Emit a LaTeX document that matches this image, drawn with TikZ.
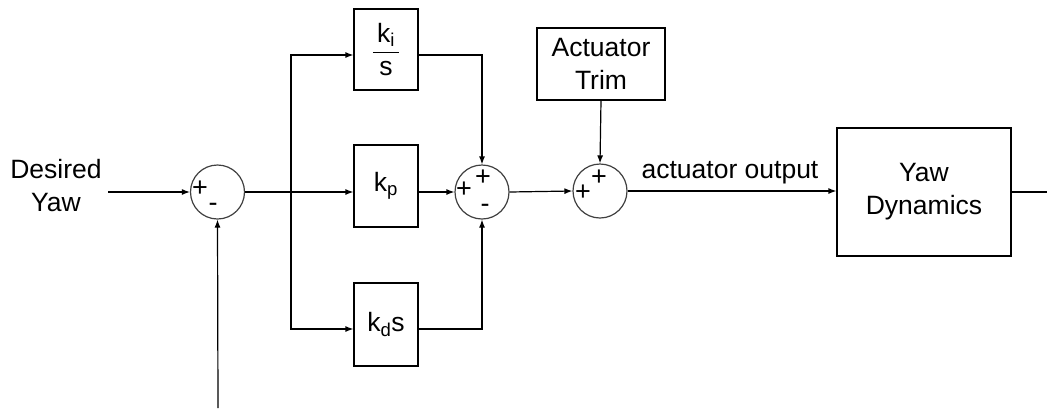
\documentclass[tikz,border=0pt]{standalone}
\usepackage{fontspec}
\setmainfont{Liberation Sans}
\usepackage{amsmath}
\usetikzlibrary{arrows.meta}
\tikzset{yawloop/.style={x=1pt,y=-1pt,line width=1.2pt,
           font=\fontsize{26.5}{33}\selectfont,>={Latex[length=8pt,width=6pt]}}}
\tikzset{blk/.style={draw,rectangle,inner sep=0pt,align=center},
         sumj/.style={draw,black!75,circle,minimum size=54pt,inner sep=0pt},
         sgn/.style={font=\fontsize{27}{27}\selectfont,inner sep=0pt}}

\begin{document}
\begin{tikzpicture}[yawloop]
    \useasboundingbox (0,0) rectangle (1047,408);
    % summing junctions
    \node[sumj] (s1) at (217.5,192) {};
    \node[sumj] (s2) at (482,192) {};
    \node[sumj] (s3) at (600,191) {};
    \node[sgn] (s1a) at (200,189) {+};
    \node[sgn] (s1b) at (213,207) {-};
    \node[sgn] (s2a) at (464,190) {+};
    \node[sgn] (s2b) at (483,178) {+};
    \node[sgn] (s2c) at (485,208) {-};
    \node[sgn] (s3a) at (583,193) {+};
    \node[sgn] (s3b) at (599,178) {+};
    % blocks
    \node[blk,minimum width=64pt,minimum height=81pt] (ki) at (386,49.5)
        {$\dfrac{\,\text{k\textsubscript{i}}\,}{\text{s}}$};
    \node[blk,minimum width=64pt,minimum height=82pt] (kp) at (386,186) {k\textsubscript{p}};
    \node[blk,minimum width=64pt,minimum height=83pt] (kd) at (386,324.5) {k\textsubscript{d}s};
    \node[blk,minimum width=128pt,minimum height=72pt] (trim) at (601,64) {Actuator\\Trim};
    \node[blk,minimum width=174pt,minimum height=128pt] (yaw) at (924,192) {Yaw\\Dynamics};
    \node[align=center] (ref) at (56,186) {Desired\\Yaw};
    \node[anchor=base] (act) at (730,178) {actuator output};
    \coordinate (in) at (108,192);
    \coordinate (br) at (291,192);
    \coordinate (fb) at (218,408);
    \coordinate (out) at (1047,192);
    % signal lines
    \draw[->] (in) -- (s1.west);
    \draw[->] (s1.east) -- (kp.west |- s1.east);
    \draw[->] (br) |- (ki.west |- 0,55);
    \draw[->] (br) |- (kd.west |- 0,329);
    \draw[->] (ki.east |- 0,55) -| (s2.north);
    \draw[->] (kp.east |- s2.west) -- (s2.west);
    \draw[->] (kd.east |- 0,329) -| (s2.south);
    \draw[->] (s2.east) -- (s3.west);
    \draw[->] (trim.south) -- (s3.north);
    \draw[->] (s3.east) -- (yaw.west |- s3.east);
    \draw (yaw.east) -- (out);
    \draw[->] (fb) -- (s1.south);
\end{tikzpicture}
\end{document}
